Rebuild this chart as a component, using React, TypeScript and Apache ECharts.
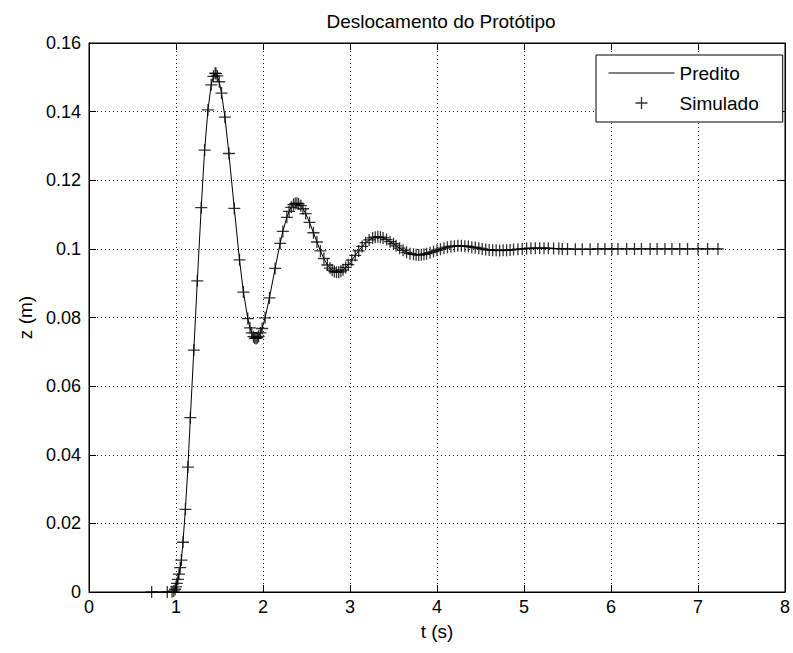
import React, { useEffect, useRef } from "react";
import * as echarts from "echarts";

// ---- data ----
const chartTitle = "Deslocamento do Protótipo";
const xName = "t (s)";
const yName = "z (m)";
const seriesNames = ["Predito", "Simulado"];

const xMin = 0;
const xMax = 8;
const xStep = 1;
const yMin = 0;
const yMax = 0.16;
const yStep = 0.02;

// simulated samples (time, displacement)
const simT = [
  0.72, 0.90, 0.955, 0.975, 0.99, 1.0, 1.01, 1.022, 1.034, 1.048,
  1.062, 1.08, 1.108, 1.137, 1.165, 1.205, 1.245, 1.29, 1.329, 1.367,
  1.405, 1.43, 1.45, 1.46, 1.475, 1.497, 1.523, 1.562, 1.608, 1.67,
  1.73, 1.775, 1.825, 1.85, 1.87, 1.89, 1.905, 1.92, 1.935, 1.95,
  1.97, 1.99, 2.024, 2.074, 2.139, 2.197, 2.228, 2.274, 2.30, 2.325,
  2.35, 2.37, 2.39, 2.41, 2.435, 2.46, 2.49, 2.535, 2.58, 2.62,
  2.66, 2.70, 2.74, 2.77, 2.795, 2.82, 2.845, 2.87, 2.895, 2.92,
  2.95, 2.98, 3.02, 3.06, 3.10, 3.14, 3.18, 3.22, 3.26, 3.29,
  3.32, 3.35, 3.38, 3.42, 3.46, 3.50, 3.53, 3.57, 3.61, 3.65,
  3.69, 3.73, 3.76, 3.79, 3.82, 3.85, 3.88, 3.92, 3.96, 4.00,
  4.04, 4.08, 4.12, 4.16, 4.20, 4.24, 4.28, 4.32, 4.36, 4.40,
  4.44, 4.48, 4.52, 4.56, 4.60, 4.64, 4.68, 4.72, 4.76, 4.80,
  4.84, 4.88, 4.93, 4.98, 5.03, 5.08, 5.13, 5.18, 5.23, 5.28,
  5.34, 5.40, 5.44, 5.50, 5.59, 5.67, 5.76, 5.85, 5.93, 6.01,
  6.08, 6.18, 6.27, 6.35, 6.45, 6.53, 6.62, 6.70, 6.79, 6.88,
  7.00, 7.11, 7.23,
];

const simZ = [
  0, 0, 0.0001, 0.0003, 0.0008, 0.0015, 0.0025, 0.0037, 0.0052, 0.0071,
  0.0093, 0.0145, 0.0241, 0.0364, 0.0508, 0.0705, 0.0907, 0.1120, 0.1288, 0.1405,
  0.1478, 0.1503, 0.1512, 0.1511, 0.1504, 0.1487, 0.1454, 0.1384, 0.1278, 0.1118,
  0.0968, 0.0874, 0.0797, 0.0770, 0.0755, 0.0744, 0.0740, 0.0739, 0.0741, 0.0745,
  0.0755, 0.0768, 0.0799, 0.0857, 0.0943, 0.1016, 0.1051, 0.1092, 0.1109, 0.1121,
  0.1129, 0.1132, 0.1133, 0.1131, 0.1126, 0.1117, 0.1103, 0.1077, 0.1047, 0.1020,
  0.0994, 0.0972, 0.0953, 0.0944, 0.0938, 0.0934, 0.0932, 0.0932, 0.0935, 0.0939,
  0.0946, 0.0954, 0.0967, 0.0981, 0.0994, 0.1007, 0.1018, 0.1026, 0.1032, 0.1034,
  0.1035, 0.1034, 0.1032, 0.1027, 0.1021, 0.1015, 0.1009, 0.1002, 0.0996, 0.0990,
  0.0986, 0.0984, 0.0983, 0.0982, 0.0983, 0.0984, 0.0986, 0.0989, 0.0992, 0.0996,
  0.0999, 0.1002, 0.1005, 0.1007, 0.1008, 0.1009, 0.1009, 0.1008, 0.1007, 0.1005,
  0.1004, 0.1002, 0.1000, 0.0998, 0.0997, 0.0996, 0.0996, 0.0995, 0.0996, 0.0996,
  0.0997, 0.0998, 0.0999, 0.1000, 0.1001, 0.1002, 0.1002, 0.1002, 0.1002, 0.1002,
  0.1001, 0.1001, 0.1000, 0.1000, 0.0999, 0.0999, 0.0999, 0.1000, 0.1000, 0.1000,
  0.1000, 0.1000, 0.1000, 0.1000, 0.1000, 0.1000, 0.1000, 0.1000, 0.1000, 0.1000,
  0.1000, 0.1000, 0.1000,
];

// predicted curve follows the same samples and ends slightly later
const predEndT = 7.26;
const predEndZ = 0.1;

const FONT = "'Liberation Sans', Arial, sans-serif";
const PLUS = "path://M0,5.35L12,5.35L12,6.65L0,6.65Z M5.35,0L6.65,0L6.65,12L5.35,12Z";

export default function App() {
  const ref = useRef<HTMLDivElement>(null);

  useEffect(() => {
    document.body.style.margin = "0";
    const chart = echarts.init(ref.current as HTMLDivElement, null, { renderer: "svg" });

    const simData = simT.map((t, i) => [t, simZ[i]]);
    const predData = simData.concat([[predEndT, predEndZ]]);

    const tickStyle = { show: true, inside: true, length: 7, lineStyle: { color: "#000", width: 1 } };
    const lineStyle = { show: true, onZero: false, lineStyle: { color: "#000", width: 1 } };
    const gridLine = { show: true, lineStyle: { color: "#222", width: 1, type: [1, 3] as any } };

    chart.setOption({
      animation: false,
      color: ["#000", "#000"],
      backgroundColor: "#fff",
      title: {
        text: chartTitle,
        left: 436,
        textAlign: "center",
        top: 7,
        textStyle: { fontSize: 19, fontWeight: "normal", color: "#000", fontFamily: FONT },
      },
      grid: {
        left: 89,
        right: 6,
        top: 43,
        bottom: 61,
        show: true,
        borderColor: "#000",
        borderWidth: 1,
        backgroundColor: "#fff",
      },
      legend: {
        left: 596,
        top: 55,
        orient: "vertical",
        backgroundColor: "#fff",
        borderColor: "#000",
        borderWidth: 1,
        borderRadius: 0,
        padding: [8, 24, 9, 12],
        itemGap: 10,
        itemWidth: 66,
        itemHeight: 12,
        selectedMode: false,
        textStyle: { fontSize: 19, color: "#000", fontFamily: FONT, lineHeight: 20 },
        data: [
          {
            name: seriesNames[0],
            itemStyle: { opacity: 0 },
            lineStyle: { width: 1, color: "#000" },
          },
          { name: seriesNames[1], icon: PLUS },
        ],
      },
      xAxis: [
        {
          type: "value",
          position: "bottom",
          min: xMin,
          max: xMax,
          interval: xStep,
          name: xName,
          nameLocation: "middle",
          nameGap: 30,
          nameTextStyle: { fontSize: 19, color: "#000", fontFamily: FONT },
          axisLine: lineStyle,
          axisTick: tickStyle,
          axisLabel: { color: "#000", fontSize: 18, margin: 6, fontFamily: FONT },
          splitLine: gridLine,
        },
        {
          type: "value",
          position: "top",
          min: xMin,
          max: xMax,
          interval: xStep,
          axisLine: lineStyle,
          axisTick: tickStyle,
          axisLabel: { show: false },
          splitLine: { show: false },
        },
      ],
      yAxis: [
        {
          type: "value",
          position: "left",
          min: yMin,
          max: yMax,
          interval: yStep,
          name: yName,
          nameLocation: "middle",
          nameGap: 45,
          nameTextStyle: { fontSize: 19, color: "#000", fontFamily: FONT },
          axisLine: lineStyle,
          axisTick: tickStyle,
          axisLabel: {
            color: "#000",
            fontSize: 18,
            margin: 8,
            fontFamily: FONT,
            formatter: (v: number) => (v === 0 ? "0" : String(Math.round(v * 100) / 100)),
          },
          splitLine: gridLine,
        },
        {
          type: "value",
          position: "right",
          min: yMin,
          max: yMax,
          interval: yStep,
          axisLine: lineStyle,
          axisTick: tickStyle,
          axisLabel: { show: false },
          splitLine: { show: false },
        },
      ],
      series: [
        {
          name: seriesNames[0],
          type: "line",
          xAxisIndex: 0,
          yAxisIndex: 0,
          data: predData,
          symbol: "none",
          lineStyle: { color: "#000", width: 1 },
          itemStyle: { color: "#000" },
          z: 3,
        },
        {
          name: seriesNames[1],
          type: "scatter",
          xAxisIndex: 0,
          yAxisIndex: 0,
          data: simData,
          symbol: PLUS,
          symbolSize: 12,
          symbolKeepAspect: true,
          itemStyle: { color: "#000" },
          z: 4,
        },
      ],
    });

    return () => chart.dispose();
  }, []);

  return (
    <div
      ref={ref}
      style={{ position: "fixed", left: 0, top: 0, width: 793, height: 653 }}
    />
  );
}
